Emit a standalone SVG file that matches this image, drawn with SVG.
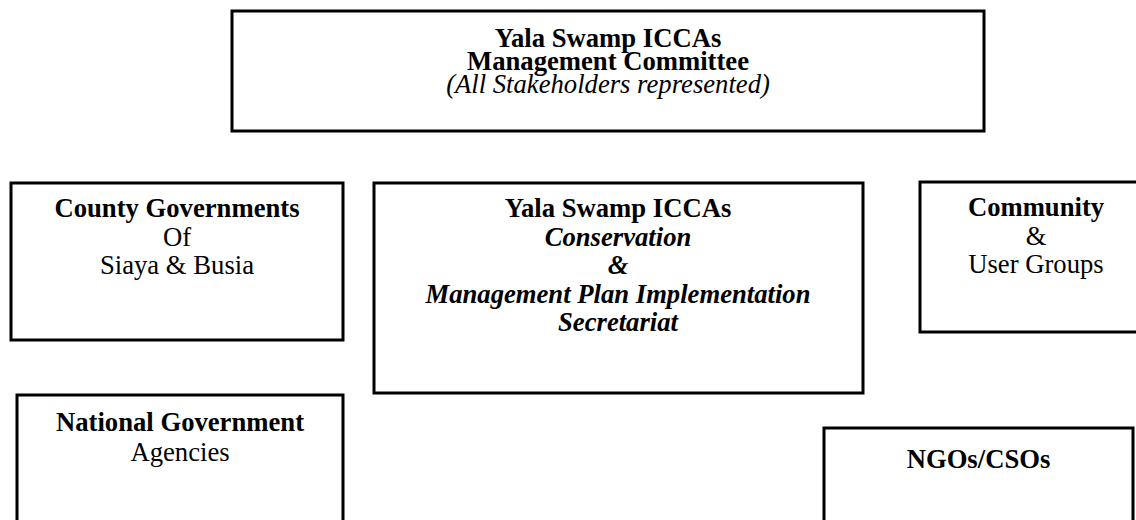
<svg xmlns="http://www.w3.org/2000/svg" width="1136" height="520" viewBox="0 0 1136 520">
  <style>
    .box { fill: #ffffff; stroke: #000000; stroke-width: 3; }
    text { font-family: "Liberation Serif", "Times New Roman", serif; font-size: 26.67px; fill: #000000; text-anchor: middle; }
    .b { font-weight: bold; }
    .i { font-style: italic; }
    .bi { font-weight: bold; font-style: italic; }
  </style>
  <rect x="0" y="0" width="1136" height="520" fill="#ffffff"/>

  <!-- connectors: none drawn between the boxes -->
  <g id="connectors"></g>

  <g id="management-committee">
    <rect class="box" x="232" y="11" width="752" height="120"/>
    <text class="b" x="608" y="47">Yala Swamp ICCAs</text>
    <text class="b" x="608" y="70">Management Committee</text>
    <text class="i" x="608" y="93">(All Stakeholders represented)</text>
  </g>

  <g id="county-governments">
    <rect class="box" x="11" y="183" width="332" height="157"/>
    <text class="b" x="177" y="217">County Governments</text>
    <text x="177" y="245.5">Of</text>
    <text x="177" y="274">Siaya &amp; Busia</text>
  </g>

  <g id="secretariat">
    <rect class="box" x="374" y="183" width="489" height="210"/>
    <text class="b" x="618" y="217">Yala Swamp ICCAs</text>
    <text class="bi" x="618" y="245.5">Conservation</text>
    <text class="bi" x="618" y="274">&amp;</text>
    <text class="bi" x="618" y="302.5">Management Plan Implementation</text>
    <text class="bi" x="618" y="331">Secretariat</text>
  </g>

  <g id="community">
    <rect class="box" x="920" y="182" width="232" height="150"/>
    <text class="b" x="1036" y="216">Community</text>
    <text x="1036" y="244.5">&amp;</text>
    <text x="1036" y="273">User Groups</text>
  </g>

  <g id="national-government">
    <rect class="box" x="17" y="395" width="326" height="140"/>
    <text class="b" x="180" y="431">National Government</text>
    <text x="180" y="461">Agencies</text>
  </g>

  <g id="ngos-csos">
    <rect class="box" x="824" y="428" width="309" height="110"/>
    <text class="b" x="978.5" y="468">NGOs/CSOs</text>
  </g>
</svg>
